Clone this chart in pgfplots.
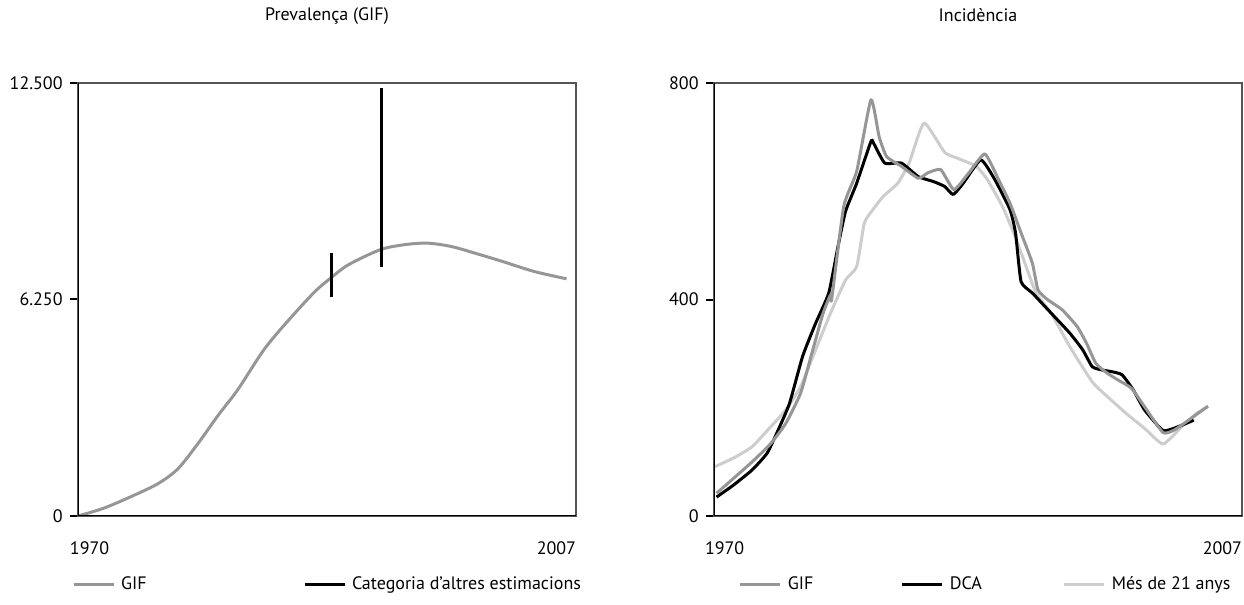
\documentclass[border=0pt]{standalone}
\usepackage{fontspec}
\setmainfont{PT Sans}
\usepackage{pgfplots}
\pgfplotsset{compat=1.18}

\definecolor{gifgray}{RGB}{150,150,150}
\definecolor{adultgray}{RGB}{205,205,205}
\definecolor{framegray}{RGB}{85,85,85}

\pgfplotsset{
  panel/.style={
    scale only axis,
    height=216.5pt,
    xmin=1970, xmax=2007,
    axis line style={draw=framegray, line width=1pt},
    xtick={1970,2007},
    xtick style={draw=none},
    ytick pos=left,
    ytick style={black, line width=1pt},
    tick align=outside,
    major tick length=4pt,
    scaled y ticks=false,
    tick label style={font=\fontsize{9}{10}\selectfont},
    xticklabel style={anchor=base, yshift=-15.5pt},
    yticklabel style={anchor=east, inner sep=0pt, xshift=-3.5pt},
    title style={font=\fontsize{9}{10}\selectfont, at={(0.5,1)}, anchor=base, yshift=25pt},
    legend columns=-1,
    legend style={draw=none, fill=none, inner sep=0pt, outer sep=0pt,
      font=\fontsize{9}{10}\selectfont, anchor=west,
      nodes={inner sep=0pt, anchor=base west},
      /tikz/every odd column/.append style={column sep=3pt}},
    legend image code/.code={\draw[#1, line width=1.5pt] (0pt,2.8pt) -- (20pt,2.8pt);},
    every axis plot/.append style={line width=1.5pt, line join=round},
  }
}

\begin{document}
\begin{tikzpicture}
\useasboundingbox (0,0) rectangle (622pt,302.5pt);

% Prevalença
\begin{axis}[panel,
  at={(39pt,44.5pt)}, anchor=south west, width=249pt,
  ymin=0, ymax=12500,
  ytick={0,6250,12500}, yticklabels={0,6.250,12.500},
  xticklabels={\makebox[0pt][l]{\hspace*{-4pt}1970}, \makebox[0pt][r]{2007}},
  title={Prevalença (GIF)},
  legend style={at={(axis description cs:-0.012,-0.159)}},
  unbounded coords=jump,
]
\addplot[gifgray, smooth, tension=0.5] coordinates {
  (1970.00,0) (1971.88,221) (1973.94,559) (1975.99,944) (1977.46,1377)
  (1978.93,2099) (1980.40,2900) (1981.86,3640) (1983.63,4699) (1984.80,5277)
  (1986.56,6048) (1987.74,6529) (1988.77,6866) (1990.09,7252) (1992.44,7685)
  (1994.20,7829) (1995.96,7877) (1997.72,7781) (1999.49,7588) (2001.54,7348)
  (2003.89,7059) (2006.30,6847)
};
\addlegendentry{\makebox[91pt][l]{GIF}}
\addplot[black] coordinates {
  (1988.80,6308) (1988.80,7588) (1990.5,nan) (1992.53,7184) (1992.53,12355)
};
\addlegendentry{Categoria d’altres estimacions}
\draw[black, line width=1pt] (rel axis cs:0,1) -- (rel axis cs:0,0) -- (rel axis cs:1,0);
\end{axis}

% Incidència
\begin{axis}[panel,
  at={(357pt,44.5pt)}, anchor=south west, width=264pt,
  ymin=0, ymax=800,
  ytick={0,400,800}, yticklabels={0,400,800},
  xticklabels={\makebox[0pt][l]{\hspace*{-4.5pt}1970}, \makebox[0pt][r]{2007}},
  title={Incidència},
  legend style={at={(axis description cs:0.047,-0.159)}},
]
\addplot[adultgray, forget plot, smooth, tension=0.3] coordinates {
  (1970.05,91) (1971.36,107) (1972.67,128) (1973.98,165) (1975.03,196)
  (1976.07,239) (1977.12,307) (1978.17,375) (1979.22,436) (1980.00,461)
  (1980.53,541) (1981.05,563) (1981.84,590) (1982.88,615) (1983.67,652)
  (1984.72,726) (1986.16,672) (1987.07,661) (1988.38,646) (1989.17,621)
  (1990.21,572) (1991.00,523) (1991.79,467) (1992.57,412) (1993.62,375)
  (1994.93,313) (1996.50,248) (1997.55,221) (1998.86,190) (2000.17,162)
  (2001.47,133) (2002.78,165) (2003.83,190) (2004.62,202)
};
\addplot[black, forget plot, smooth, tension=0.3] coordinates {
  (1970.18,35) (1971.36,57) (1972.67,85) (1973.72,116) (1974.50,159)
  (1975.29,208) (1976.21,295) (1977.12,356) (1978.04,412) (1978.69,498)
  (1979.22,563) (1980.00,615) (1981.00,692) (1981.18,689) (1981.97,652)
  (1983.14,652) (1984.32,627) (1985.37,618) (1986.16,609) (1986.76,594)
  (1987.47,615) (1988.70,658) (1989.69,621) (1990.74,566) (1991.13,523)
  (1991.52,433) (1992.31,412) (1993.62,375) (1994.93,338) (1995.84,307)
  (1996.50,276) (1997.15,270) (1997.81,267) (1998.59,261) (1999.38,233)
  (2000.17,196) (2001.47,158) (2002.52,165) (2003.62,177)
};
\addplot[gifgray, forget plot, smooth, tension=0.3] coordinates {
  (1970.18,42) (1972.67,100) (1973.98,134) (1975.03,171) (1976.07,227)
  (1976.86,301) (1977.65,375) (1978.17,409) (1978.25,401) (1979.09,572)
  (1980.00,637) (1981.00,769) (1981.57,701) (1982.10,664) (1983.14,646)
  (1984.32,624) (1984.98,634) (1985.89,640) (1986.81,603) (1987.86,634)
  (1988.98,669) (1989.95,621) (1990.74,578) (1991.52,523) (1992.31,467)
  (1992.70,418) (1993.36,400) (1994.40,381) (1995.45,350) (1996.11,319)
  (1996.76,282) (1997.55,264) (1998.33,251) (1999.25,236) (2000.17,202)
  (2001.47,154) (2002.26,159) (2003.31,178) (2004.62,203)
};
\addlegendimage{gifgray, line width=1.5pt}
\addlegendentry{\makebox[56.5pt][l]{GIF}}
\addlegendimage{black, line width=1.5pt}
\addlegendentry{\makebox[56.5pt][l]{DCA}}
\addlegendimage{adultgray, line width=1.5pt}
\addlegendentry{Més de 21 anys}
\draw[black, line width=1pt] (rel axis cs:0,1) -- (rel axis cs:0,0) -- (rel axis cs:1,0);
\end{axis}
\end{tikzpicture}
\end{document}
